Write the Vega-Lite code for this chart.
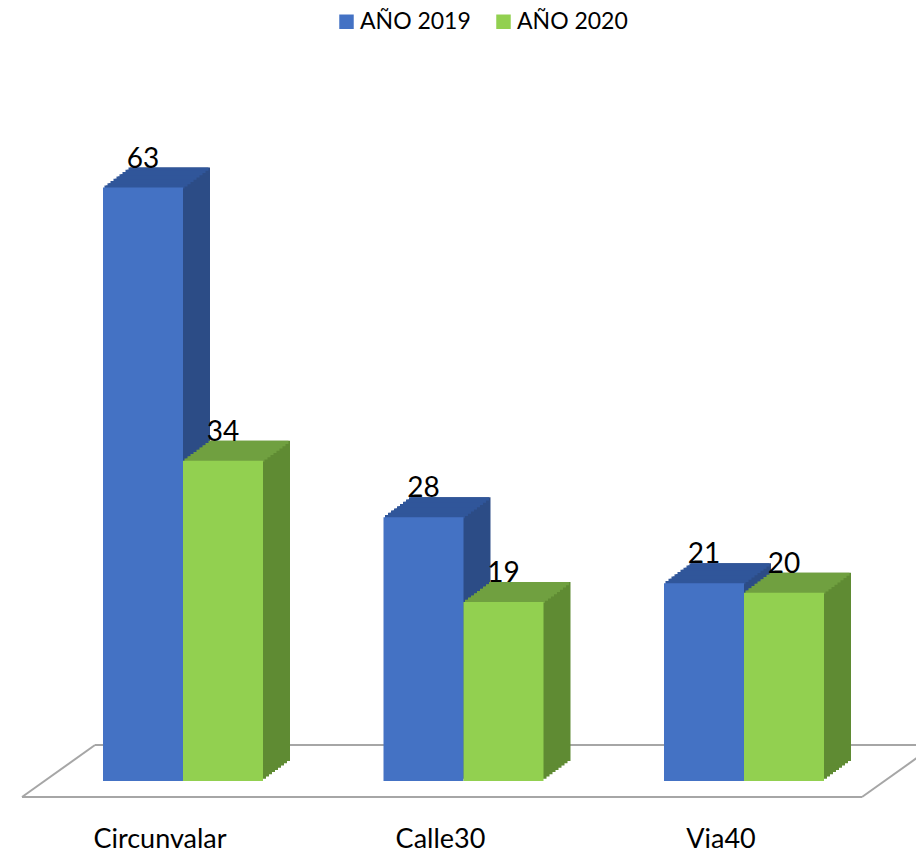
{
  "$schema": "https://vega.github.io/schema/vega-lite/v6.json",
  "width": 905,
  "height": 721,
  "autosize": "none",
  "padding": {"left": 11, "top": 60, "right": 0, "bottom": 73},
  "background": "white",
  "config": {"view": {"stroke": null}, "font": "Lato", "axisX": {"title": null, "domain": false, "ticks": false, "grid": false, "labelAngle": 0, "labelFontSize": 27, "labelFont": "Lato", "labelColor": "#000000", "labelPadding": 45, "labelOffset": -23}},
  "data": {"values": [
    {"via": "Circunvalar", "serie": "AÑO 2019", "valor": 63},
    {"via": "Circunvalar", "serie": "AÑO 2020", "valor": 34},
    {"via": "Calle30", "serie": "AÑO 2019", "valor": 28},
    {"via": "Calle30", "serie": "AÑO 2020", "valor": 19},
    {"via": "Via40", "serie": "AÑO 2019", "valor": 21},
    {"via": "Via40", "serie": "AÑO 2020", "valor": 20}
  ]},
  "layer": [
    {
      "data": {"values": [{}]},
      "mark": {"type": "rule", "color": "#A6A6A6", "strokeWidth": 2},
      "encoding": {
        "x": {"datum": "Circunvalar", "type": "nominal", "bandPosition": -0.50625, "title": null},
        "x2": {"datum": "Via40", "bandPosition": 1.2375},
        "y": {"datum": -1.7, "type": "quantitative", "axis": null, "title": null},
        "y2": {"datum": -1.7}
      }
    },
    {
      "data": {"values": [{}]},
      "mark": {"type": "rule", "color": "#A6A6A6", "strokeWidth": 2},
      "encoding": {
        "x": {"datum": "Circunvalar", "type": "nominal", "bandPosition": -0.05, "title": null},
        "x2": {"datum": "Via40", "bandPosition": 1.694},
        "y": {"datum": 3.82, "type": "quantitative", "axis": null, "title": null},
        "y2": {"datum": 3.82}
      }
    },
    {
      "data": {"values": [{}]},
      "mark": {"type": "rule", "color": "#A6A6A6", "strokeWidth": 2},
      "encoding": {
        "x": {"datum": "Circunvalar", "type": "nominal", "bandPosition": -0.50625, "title": null},
        "x2": {"datum": "Circunvalar", "bandPosition": -0.05},
        "y": {"datum": -1.7, "type": "quantitative", "axis": null, "title": null},
        "y2": {"datum": 3.82}
      }
    },
    {
      "data": {"values": [{}]},
      "mark": {"type": "rule", "color": "#A6A6A6", "strokeWidth": 2},
      "encoding": {
        "x": {"datum": "Via40", "type": "nominal", "bandPosition": 1.2375, "title": null},
        "x2": {"datum": "Via40", "bandPosition": 1.694},
        "y": {"datum": -1.7, "type": "quantitative", "axis": null, "title": null},
        "y2": {"datum": 3.82}
      }
    },
    {
      "encoding": {
        "x": {
          "field": "via", "type": "nominal", "sort": ["Circunvalar", "Calle30", "Via40"],
          "scale": {"domain": ["Circunvalar", "Calle30", "Via40"], "paddingInner": 0.42959, "paddingOuter": 0.328},
          "title": null
        },
        "y": {"field": "valor", "type": "quantitative", "scale": {"domain": [0, 76.55], "nice": false, "zero": true}, "axis": null}
      },
      "layer": [
        {"transform": [{"filter": "datum.serie === 'AÑO 2019'"}], "mark": {"type": "bar", "width": {"band": 0.5}, "color": "#2C4C86", "xOffset": -37, "yOffset": -2.222, "y2Offset": -2.222}},
        {"transform": [{"filter": "datum.serie === 'AÑO 2019'"}], "mark": {"type": "bar", "width": {"band": 0.5}, "color": "#2C4C86", "xOffset": -34, "yOffset": -4.444, "y2Offset": -4.444}},
        {"transform": [{"filter": "datum.serie === 'AÑO 2019'"}], "mark": {"type": "bar", "width": {"band": 0.5}, "color": "#2C4C86", "xOffset": -31, "yOffset": -6.667, "y2Offset": -6.667}},
        {"transform": [{"filter": "datum.serie === 'AÑO 2019'"}], "mark": {"type": "bar", "width": {"band": 0.5}, "color": "#2C4C86", "xOffset": -28, "yOffset": -8.889, "y2Offset": -8.889}},
        {"transform": [{"filter": "datum.serie === 'AÑO 2019'"}], "mark": {"type": "bar", "width": {"band": 0.5}, "color": "#2C4C86", "xOffset": -25, "yOffset": -11.111, "y2Offset": -11.111}},
        {"transform": [{"filter": "datum.serie === 'AÑO 2019'"}], "mark": {"type": "bar", "width": {"band": 0.5}, "color": "#2C4C86", "xOffset": -22, "yOffset": -13.333, "y2Offset": -13.333}},
        {"transform": [{"filter": "datum.serie === 'AÑO 2019'"}], "mark": {"type": "bar", "width": {"band": 0.5}, "color": "#2C4C86", "xOffset": -19, "yOffset": -15.556, "y2Offset": -15.556}},
        {"transform": [{"filter": "datum.serie === 'AÑO 2019'"}], "mark": {"type": "bar", "width": {"band": 0.5}, "color": "#2C4C86", "xOffset": -16, "yOffset": -17.778, "y2Offset": -17.778}},
        {"transform": [{"filter": "datum.serie === 'AÑO 2019'"}], "mark": {"type": "bar", "width": {"band": 0.5}, "color": "#2C4C86", "xOffset": -13, "yOffset": -20, "y2Offset": -20}},
        {"transform": [{"filter": "datum.serie === 'AÑO 2019'"}], "mark": {"type": "bar", "width": {"band": 0.5}, "color": "#30569A", "xOffset": -38.5, "yOffset": -2.222, "y2Offset": 1}, "encoding": {"y2": {"field": "valor"}}},
        {"transform": [{"filter": "datum.serie === 'AÑO 2019'"}], "mark": {"type": "bar", "width": {"band": 0.5}, "color": "#30569A", "xOffset": -35.5, "yOffset": -4.444, "y2Offset": -1.222}, "encoding": {"y2": {"field": "valor"}}},
        {"transform": [{"filter": "datum.serie === 'AÑO 2019'"}], "mark": {"type": "bar", "width": {"band": 0.5}, "color": "#30569A", "xOffset": -32.5, "yOffset": -6.667, "y2Offset": -3.444}, "encoding": {"y2": {"field": "valor"}}},
        {"transform": [{"filter": "datum.serie === 'AÑO 2019'"}], "mark": {"type": "bar", "width": {"band": 0.5}, "color": "#30569A", "xOffset": -29.5, "yOffset": -8.889, "y2Offset": -5.667}, "encoding": {"y2": {"field": "valor"}}},
        {"transform": [{"filter": "datum.serie === 'AÑO 2019'"}], "mark": {"type": "bar", "width": {"band": 0.5}, "color": "#30569A", "xOffset": -26.5, "yOffset": -11.111, "y2Offset": -7.889}, "encoding": {"y2": {"field": "valor"}}},
        {"transform": [{"filter": "datum.serie === 'AÑO 2019'"}], "mark": {"type": "bar", "width": {"band": 0.5}, "color": "#30569A", "xOffset": -23.5, "yOffset": -13.333, "y2Offset": -10.111}, "encoding": {"y2": {"field": "valor"}}},
        {"transform": [{"filter": "datum.serie === 'AÑO 2019'"}], "mark": {"type": "bar", "width": {"band": 0.5}, "color": "#30569A", "xOffset": -20.5, "yOffset": -15.556, "y2Offset": -12.333}, "encoding": {"y2": {"field": "valor"}}},
        {"transform": [{"filter": "datum.serie === 'AÑO 2019'"}], "mark": {"type": "bar", "width": {"band": 0.5}, "color": "#30569A", "xOffset": -17.5, "yOffset": -17.778, "y2Offset": -14.556}, "encoding": {"y2": {"field": "valor"}}},
        {"transform": [{"filter": "datum.serie === 'AÑO 2019'"}], "mark": {"type": "bar", "width": {"band": 0.5}, "color": "#30569A", "xOffset": -14.5, "yOffset": -20, "y2Offset": -16.778}, "encoding": {"y2": {"field": "valor"}}},
        {
          "transform": [{"filter": "datum.serie === 'AÑO 2019'"}],
          "mark": {"type": "bar", "width": {"band": 0.5}, "xOffset": -40},
          "encoding": {
            "color": {
              "field": "serie", "type": "nominal",
              "scale": {"domain": ["AÑO 2019", "AÑO 2020"], "range": ["#4472C4", "#92D050"]},
              "legend": {"orient": "none", "legendX": 324, "legendY": -50, "direction": "horizontal", "title": null, "symbolType": "square", "symbolSize": 210, "symbolStrokeWidth": 0, "symbolOpacity": 1, "labelFontSize": 23, "labelFont": "Lato", "labelColor": "#000000", "labelOffset": 2, "columnPadding": 21, "padding": 0}
            }
          }
        },
        {"transform": [{"filter": "datum.serie === 'AÑO 2020'"}], "mark": {"type": "bar", "width": {"band": 0.5}, "color": "#5F8B33", "xOffset": 43, "yOffset": -2.222, "y2Offset": -2.222}},
        {"transform": [{"filter": "datum.serie === 'AÑO 2020'"}], "mark": {"type": "bar", "width": {"band": 0.5}, "color": "#5F8B33", "xOffset": 46, "yOffset": -4.444, "y2Offset": -4.444}},
        {"transform": [{"filter": "datum.serie === 'AÑO 2020'"}], "mark": {"type": "bar", "width": {"band": 0.5}, "color": "#5F8B33", "xOffset": 49, "yOffset": -6.667, "y2Offset": -6.667}},
        {"transform": [{"filter": "datum.serie === 'AÑO 2020'"}], "mark": {"type": "bar", "width": {"band": 0.5}, "color": "#5F8B33", "xOffset": 52, "yOffset": -8.889, "y2Offset": -8.889}},
        {"transform": [{"filter": "datum.serie === 'AÑO 2020'"}], "mark": {"type": "bar", "width": {"band": 0.5}, "color": "#5F8B33", "xOffset": 55, "yOffset": -11.111, "y2Offset": -11.111}},
        {"transform": [{"filter": "datum.serie === 'AÑO 2020'"}], "mark": {"type": "bar", "width": {"band": 0.5}, "color": "#5F8B33", "xOffset": 58, "yOffset": -13.333, "y2Offset": -13.333}},
        {"transform": [{"filter": "datum.serie === 'AÑO 2020'"}], "mark": {"type": "bar", "width": {"band": 0.5}, "color": "#5F8B33", "xOffset": 61, "yOffset": -15.556, "y2Offset": -15.556}},
        {"transform": [{"filter": "datum.serie === 'AÑO 2020'"}], "mark": {"type": "bar", "width": {"band": 0.5}, "color": "#5F8B33", "xOffset": 64, "yOffset": -17.778, "y2Offset": -17.778}},
        {"transform": [{"filter": "datum.serie === 'AÑO 2020'"}], "mark": {"type": "bar", "width": {"band": 0.5}, "color": "#5F8B33", "xOffset": 67, "yOffset": -20, "y2Offset": -20}},
        {"transform": [{"filter": "datum.serie === 'AÑO 2020'"}], "mark": {"type": "bar", "width": {"band": 0.5}, "color": "#70A040", "xOffset": 41.5, "yOffset": -2.222, "y2Offset": 1}, "encoding": {"y2": {"field": "valor"}}},
        {"transform": [{"filter": "datum.serie === 'AÑO 2020'"}], "mark": {"type": "bar", "width": {"band": 0.5}, "color": "#70A040", "xOffset": 44.5, "yOffset": -4.444, "y2Offset": -1.222}, "encoding": {"y2": {"field": "valor"}}},
        {"transform": [{"filter": "datum.serie === 'AÑO 2020'"}], "mark": {"type": "bar", "width": {"band": 0.5}, "color": "#70A040", "xOffset": 47.5, "yOffset": -6.667, "y2Offset": -3.444}, "encoding": {"y2": {"field": "valor"}}},
        {"transform": [{"filter": "datum.serie === 'AÑO 2020'"}], "mark": {"type": "bar", "width": {"band": 0.5}, "color": "#70A040", "xOffset": 50.5, "yOffset": -8.889, "y2Offset": -5.667}, "encoding": {"y2": {"field": "valor"}}},
        {"transform": [{"filter": "datum.serie === 'AÑO 2020'"}], "mark": {"type": "bar", "width": {"band": 0.5}, "color": "#70A040", "xOffset": 53.5, "yOffset": -11.111, "y2Offset": -7.889}, "encoding": {"y2": {"field": "valor"}}},
        {"transform": [{"filter": "datum.serie === 'AÑO 2020'"}], "mark": {"type": "bar", "width": {"band": 0.5}, "color": "#70A040", "xOffset": 56.5, "yOffset": -13.333, "y2Offset": -10.111}, "encoding": {"y2": {"field": "valor"}}},
        {"transform": [{"filter": "datum.serie === 'AÑO 2020'"}], "mark": {"type": "bar", "width": {"band": 0.5}, "color": "#70A040", "xOffset": 59.5, "yOffset": -15.556, "y2Offset": -12.333}, "encoding": {"y2": {"field": "valor"}}},
        {"transform": [{"filter": "datum.serie === 'AÑO 2020'"}], "mark": {"type": "bar", "width": {"band": 0.5}, "color": "#70A040", "xOffset": 62.5, "yOffset": -17.778, "y2Offset": -14.556}, "encoding": {"y2": {"field": "valor"}}},
        {"transform": [{"filter": "datum.serie === 'AÑO 2020'"}], "mark": {"type": "bar", "width": {"band": 0.5}, "color": "#70A040", "xOffset": 65.5, "yOffset": -20, "y2Offset": -16.778}, "encoding": {"y2": {"field": "valor"}}},
        {
          "transform": [{"filter": "datum.serie === 'AÑO 2020'"}],
          "mark": {"type": "bar", "width": {"band": 0.5}, "xOffset": 40},
          "encoding": {"color": {"field": "serie", "type": "nominal"}}
        },
        {
          "transform": [{"filter": "datum.serie === 'AÑO 2019'"}],
          "mark": {"type": "text", "fontSize": 28, "font": "Lato", "color": "#000000", "dy": -20, "xOffset": -40, "baseline": "alphabetic", "align": "center"},
          "encoding": {"text": {"field": "valor", "type": "quantitative"}}
        },
        {
          "transform": [{"filter": "datum.serie === 'AÑO 2020'"}],
          "mark": {"type": "text", "fontSize": 28, "font": "Lato", "color": "#000000", "dy": -20, "xOffset": 40, "baseline": "alphabetic", "align": "center"},
          "encoding": {"text": {"field": "valor", "type": "quantitative"}}
        }
      ]
    }
  ]
}
